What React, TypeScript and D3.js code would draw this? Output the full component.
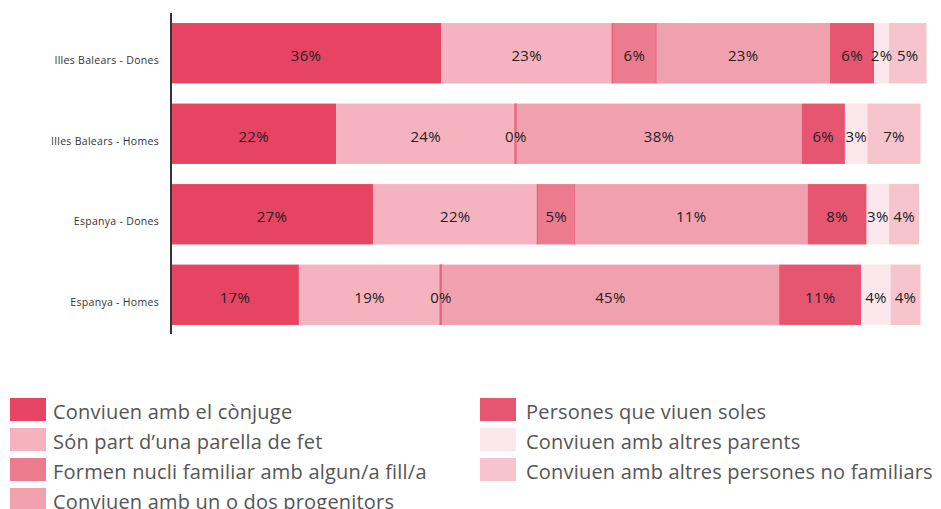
import { useEffect, useRef } from "react";
import * as d3 from "d3";

const width = 941;
const height = 509;

const groups = [
  "Illes Balears - Dones",
  "Illes Balears - Homes",
  "Espanya - Dones",
  "Espanya - Homes",
];

const categories = [
  "Conviuen amb el cònjuge",
  "Són part d’una parella de fet",
  "Formen nucli familiar amb algun/a fill/a",
  "Conviuen amb un o dos progenitors",
  "Persones que viuen soles",
  "Conviuen amb altres parents",
  "Conviuen amb altres persones no familiars",
];

const colors = ["#e64462", "#f5b3c0", "#ed7b90", "#f1a1ae", "#e65671", "#fce8ec", "#f7c4cd"];

// segment widths (percent)
const values = [
  [36.1, 22.9, 5.9, 23.2, 5.9, 2.0, 5.0],
  [22.1, 23.9, 0.2, 38.1, 5.8, 3.0, 7.1],
  [27.0, 22.0, 5.0, 31.1, 7.9, 3.0, 4.0],
  [17.1, 18.9, 0.2, 45.1, 11.0, 3.9, 4.0],
];

// labels as printed in the chart
const labels = [
  ["36%", "23%", "6%", "23%", "6%", "2%", "5%"],
  ["22%", "24%", "0%", "38%", "6%", "3%", "7%"],
  ["27%", "22%", "5%", "11%", "8%", "3%", "4%"],
  ["17%", "19%", "0%", "45%", "11%", "4%", "4%"],
];

const font = "'Open Sans', Lato, sans-serif";

export default function App() {
  const ref = useRef<SVGSVGElement>(null);

  useEffect(() => {
    document.body.style.margin = "0";
    const svg = d3.select(ref.current);
    svg.selectAll("*").remove();

    const x = d3.scaleLinear().domain([0, 100]).range([171, 919]);
    const y = d3.scaleBand().domain(groups).range([13, 335]).paddingInner(0.25).paddingOuter(0.125);

    // stack each row into [start, end] pairs
    const segs = values.map((row) => {
      let acc = 0;
      return row.map((v) => {
        const s = acc;
        acc += v;
        return [s, acc];
      });
    });

    const bars = svg.append("g");
    const texts = svg.append("g");

    groups.forEach((g, i) => {
      segs[i].forEach(([s, e], j) => {
        const x0 = x(s);
        const x1 = x(e);
        bars.append("rect")
          .attr("x", x0)
          .attr("y", y(g)!)
          .attr("width", Math.max(0, x1 - x0))
          .attr("height", y.bandwidth())
          .attr("fill", colors[j]);
        if (j === 2) {
          // darker side edges on the "fill/a" segment
          [x0, x1].forEach((ex) => {
            bars.append("line")
              .attr("x1", ex).attr("x2", ex)
              .attr("y1", y(g)!).attr("y2", y(g)! + y.bandwidth())
              .attr("stroke", "#e9627b")
              .attr("stroke-width", 1.5);
          });
        }
        texts.append("text")
          .attr("x", (x0 + x1) / 2)
          .attr("y", y(g)! + y.bandwidth() / 2 + 2)
          .attr("text-anchor", "middle")
          .attr("dominant-baseline", "central")
          .attr("font-family", font)
          .attr("font-size", 15)
          .attr("letter-spacing", 0.3)
          .attr("fill", "#222")
          .text(labels[i][j]);
      });
    });

    // y axis
    svg.append("line")
      .attr("x1", 171).attr("x2", 171)
      .attr("y1", 13).attr("y2", 334)
      .attr("stroke", "#333").attr("stroke-width", 2);

    svg.append("g")
      .selectAll("text")
      .data(groups)
      .join("text")
      .attr("x", 159)
      .attr("y", (d) => y(d)! + y.bandwidth() / 2 + 7)
      .attr("text-anchor", "end")
      .attr("dominant-baseline", "central")
      .attr("font-family", font)
      .attr("font-size", 10.5)
      .attr("letter-spacing", 0.3)
      .attr("fill", "#333")
      .text((d) => d);

    // legend
    const legend = svg.append("g");
    categories.forEach((c, i) => {
      const col = i < 4 ? 0 : 1;
      const r = i < 4 ? i : i - 4;
      const lx = col === 0 ? 10 : 480;
      const ly = 398 + r * 30;
      legend.append("rect")
        .attr("x", lx).attr("y", ly)
        .attr("width", 36).attr("height", 23)
        .attr("fill", colors[i]);
      legend.append("text")
        .attr("x", lx + (col === 0 ? 43 : 46))
        .attr("y", ly + 21)
        .attr("font-family", font)
        .attr("font-size", 20)
        .attr("letter-spacing", 0.2)
        .attr("fill", "#555")
        .text(c);
    });
  }, []);

  return <svg ref={ref} width={width} height={height} style={{ display: "block" }} />;
}
